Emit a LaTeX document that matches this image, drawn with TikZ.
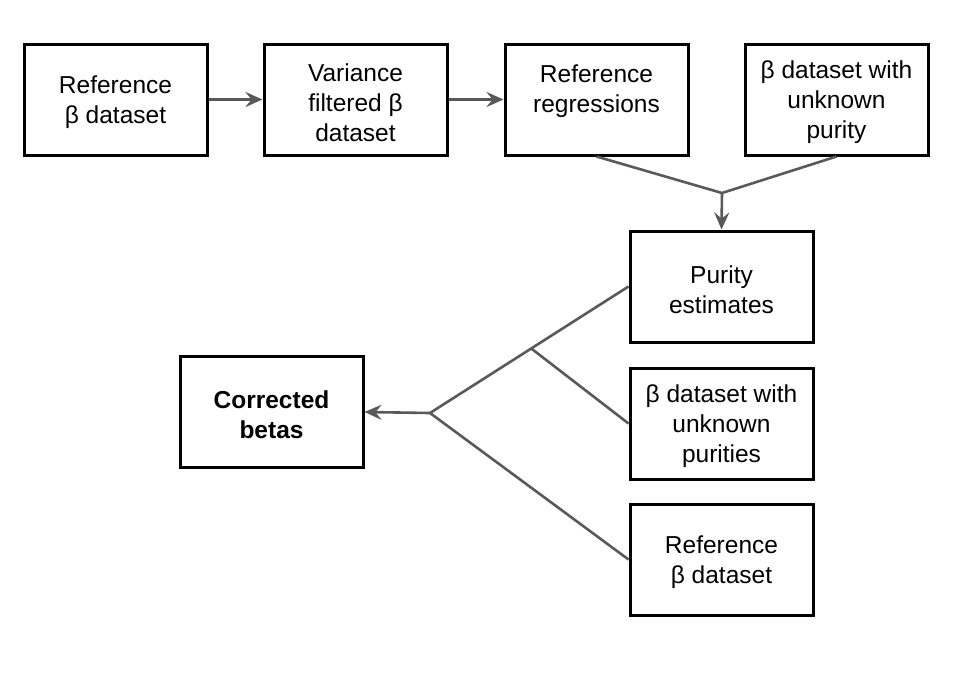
\documentclass[tikz,border=0pt]{standalone}
\usepackage{fontspec}
\setmainfont{Liberation Sans}
\usetikzlibrary{arrows.meta,calc}
\begin{document}
\begin{tikzpicture}[x=1pt,y=-1pt,
  box/.style={draw=black,line width=3pt,minimum width=183pt,minimum height=111pt,inner sep=0pt,
    label={[txt]center:{#1}}},
  txt/.style={align=center,inner sep=0pt,yshift=-3pt,font=\fontsize{24.5}{30}\selectfont},
  conn/.style={draw=black!65,line width=2.6pt},
  arr/.style={conn,-{Stealth[length=17pt,width=15pt,inset=6pt]}}]
\useasboundingbox (0,0) rectangle (959,680);
\node[box={Reference\\β dataset}] (r1) at (115.5,99.5) {};
\node[box={Variance\\filtered β\\dataset}] (r2) at (355.5,99.5) {};
\node[box={}] (r3) at (596.5,99.5) {};
\node[txt] (r3t) at (596.5,88.5) {Reference\\regressions};
\node[box={β dataset with\\unknown\\purity}] (r4) at (836.5,99.5) {};
\node[box={Purity\\estimates}] (r5) at (721.5,286.5) {};
\node[box={β dataset with\\unknown\\purities}] (r6) at (721.5,423.5) {};
\node[box={Reference\\β dataset}] (r7) at (721.5,559.5) {};
\node[box={\bfseries Corrected\\\bfseries betas}] (r8) at (271.5,412) {};
\coordinate (j1) at (722,193);
\coordinate (j2) at (430,413);
\draw[arr] (r1) -- (r2);
\draw[arr] (r2) -- (r3);
\draw[conn] (r3.south) -- (j1) -- (r4.south);
\draw[arr] (j1) -- (r5.north);
\draw[conn] (r5.west) -- (j2) -- (r7.west);
\coordinate (j3) at ($(j2)!0.51!(r5.west)$);
\draw[conn] (j3) -- (r6.west);
\draw[arr] (j2) -- (r8.east);
\end{tikzpicture}
\end{document}
